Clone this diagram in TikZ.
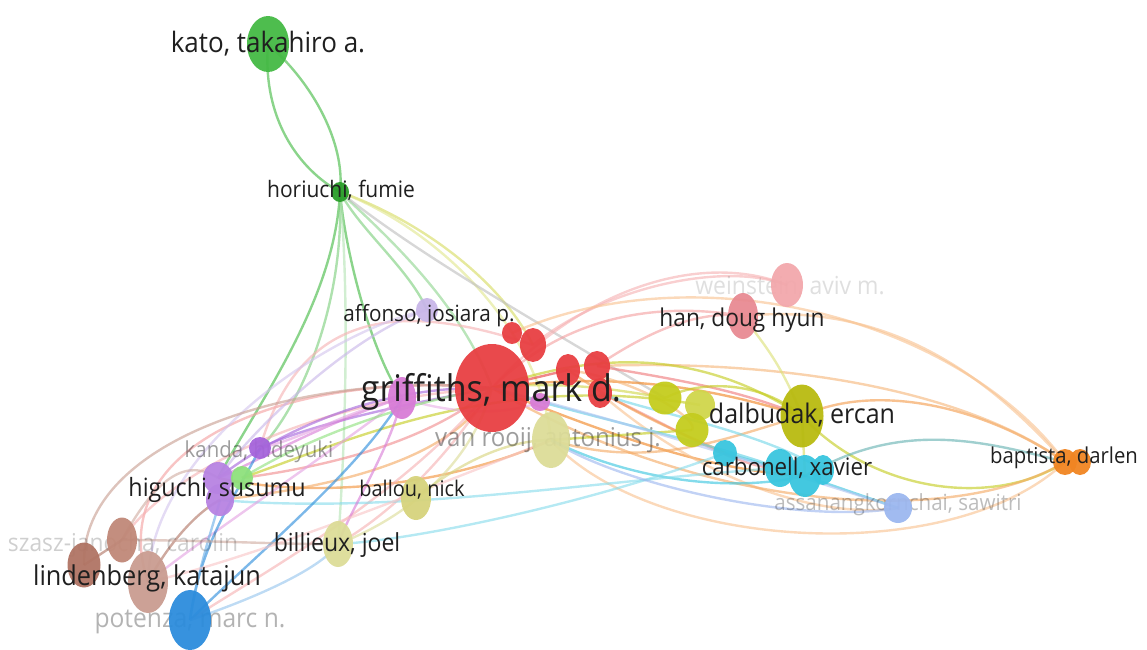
\documentclass[tikz,border=0pt]{standalone}
\usepackage{fontspec}
\setmainfont{Open Sans}
\usetikzlibrary{shapes.geometric}
\definecolor{cred}{HTML}{E83F42}
\definecolor{cgreen}{HTML}{44B944}
\definecolor{cdkgreen}{HTML}{2A9E2A}
\definecolor{cpink}{HTML}{D87CD6}
\definecolor{clav}{HTML}{C8B6E8}
\definecolor{cpurp}{HTML}{A564DB}
\definecolor{clgreen}{HTML}{8EE07C}
\definecolor{colive}{HTML}{C4CC1E}
\definecolor{cdal}{HTML}{B8BA10}
\definecolor{cpale}{HTML}{DCDC98}
\definecolor{cpale2}{HTML}{D6D37C}
\definecolor{ccyan}{HTML}{39C5DE}
\definecolor{cblue}{HTML}{2C8CDC}
\definecolor{clblue}{HTML}{9CB7EF}
\definecolor{corange}{HTML}{F08522}
\definecolor{chan}{HTML}{E88A92}
\definecolor{cwein}{HTML}{F2A8AC}
\definecolor{cbrown}{HTML}{B07464}
\definecolor{cbrown2}{HTML}{C08878}
\definecolor{clind}{HTML}{C99C90}
\pgfdeclarelayer{edges}
\pgfdeclarelayer{faded}
\pgfsetlayers{edges,faded,main}
\tikzset{
    bub/.style={ellipse, draw=none, fill=#1, fill opacity=0.95, inner sep=0pt},
    lab/.style={font=\fontsize{#1}{#1}\selectfont, text=black!88, inner sep=0pt, yscale=1.08},
    faint/.style={text=black!85, text opacity=#1},
    link/.style={draw=#1, draw opacity=0.62, line width=2.4pt},
}

\begin{document}
\begin{tikzpicture}[x=1pt, y=-1pt] % co-authorship map
	\useasboundingbox (0,0) rectangle (1147,649);
	% bubbles
	\node[bub=cgreen, minimum width=42, minimum height=56] (kato) at (268,44) {};
	\node[bub=cdkgreen, minimum width=18, minimum height=20] (horiuchi) at (340,192) {};
	\node[bub=clav, minimum width=22, minimum height=24] (affonso) at (427,310) {};
	\node[bub=cred, minimum width=74, minimum height=88] (griffiths) at (492,388) {};
	\node[bub=cred, minimum width=20, minimum height=22] (red1) at (512,333) {};
	\node[bub=cred, minimum width=26, minimum height=34] (red2) at (533,345) {};
	\node[bub=cred, minimum width=24, minimum height=32] (red3) at (568,370) {};
	\node[bub=cred, minimum width=26, minimum height=30] (red4) at (597,366) {};
	\node[bub=cred, minimum width=24, minimum height=30] (red5) at (600,393) {};
	\node[bub=cpink, minimum width=28, minimum height=42] (pinkg) at (402,398) {};
	\node[bub=cpink, minimum width=20, minimum height=18] (pinks) at (540,402) {};
	\node[bub=cpale, minimum width=38, minimum height=56] (vanrooij) at (551,440) {};
	\node[bub=colive, minimum width=33, minimum height=33] (olive1) at (665,398) {};
	\node[bub=colive!80, minimum width=30, minimum height=30] (olive2) at (700,405) {};
	\node[bub=colive, minimum width=33, minimum height=34] (olive3) at (692,430) {};
	\node[bub=cdal, minimum width=43, minimum height=63] (dalbudak) at (802,416) {};
	\node[bub=ccyan, minimum width=24, minimum height=26] (cyan1) at (725,453) {};
	\node[bub=ccyan, minimum width=30, minimum height=38] (cyan2) at (780,468) {};
	\node[bub=ccyan, minimum width=32, minimum height=42] (carbonell) at (805,476) {};
	\node[bub=ccyan, minimum width=22, minimum height=30] (cyan4) at (823,470) {};
	\node[bub=clblue, minimum width=28, minimum height=30] (assanang) at (898,508) {};
	\node[bub=corange, minimum width=24, minimum height=26] (baptista) at (1065,462) {};
	\node[bub=corange, minimum width=22, minimum height=26] (bapt2) at (1080,462) {};
	\node[bub=chan, minimum width=30, minimum height=46] (han) at (743,316) {};
	\node[bub=cwein, minimum width=32, minimum height=44] (weinstein) at (787,285) {};
	\node[bub=cpurp, minimum width=22, minimum height=22] (kanda) at (260,448) {};
	\node[bub=cpurp!80, minimum width=30, minimum height=32] (higuchi) at (218,478) {};
	\node[bub=cpurp!80, minimum width=28, minimum height=32] (higuchi2) at (220,500) {};
	\node[bub=clgreen, minimum width=22, minimum height=24] (greens) at (242,478) {};
	\node[bub=cpale2, minimum width=30, minimum height=44] (ballou) at (416,498) {};
	\node[bub=cpale, minimum width=30, minimum height=46] (billieux) at (338,544) {};
	\node[bub=cbrown2, minimum width=30, minimum height=45] (szasz) at (122,540) {};
	\node[bub=cbrown, minimum width=33, minimum height=45] (szasz2) at (84,565) {};
	\node[bub=clind, minimum width=40, minimum height=62] (lindenberg) at (148,582) {};
	\node[bub=cblue, minimum width=42, minimum height=60] (potenza) at (190,620) {};

	% links
	\begin{pgfonlayer}{edges}
	\draw[link=cgreen] (kato.center) .. controls (262,120) and (300,170) .. (horiuchi.center);
	\draw[link=cgreen] (kato.center) .. controls (320,90) and (345,150) .. (horiuchi.center);
	\draw[link=cgreen] (horiuchi.center) .. controls (345,250) and (370,350) .. (pinkg.center);
	\draw[link=cgreen!70] (horiuchi.center) .. controls (360,230) and (410,270) .. (affonso.center);
	\draw[link=cgreen!60] (horiuchi.center) .. controls (380,230) and (460,300) .. (griffiths.center);
	\draw[link=colive!70] (horiuchi.center) .. controls (420,220) and (500,280) .. (red2.center);
	\draw[link=cgreen] (horiuchi.center) .. controls (335,300) and (260,400) .. (higuchi.center);
	\draw[link=cgreen!70] (horiuchi.center) .. controls (345,320) and (290,420) .. (kanda.center);
	\draw[link=colive!50] (horiuchi.center) .. controls (440,230) and (540,330) .. (vanrooij.center);
	\draw[link=cgreen!40] (horiuchi.center) .. controls (350,300) and (345,450) .. (billieux.center);
	\draw[link=gray!50] (horiuchi.center) .. controls (400,240) and (480,290) .. (olive1.center);
	% red and orange
	\draw[link=cred!50] (griffiths.center) .. controls (560,320) and (650,300) .. (han.center);
	\draw[link=cred!40] (red2.center) .. controls (600,290) and (720,260) .. (weinstein.center);
	\draw[link=cred!40] (griffiths.center) .. controls (580,290) and (700,250) .. (weinstein.center);
	\draw[link=corange!50] (red1.center) .. controls (700,250) and (960,320) .. (baptista.center);
	\draw[link=cred!50] (red4.center) .. controls (650,330) and (700,310) .. (han.center);
	\draw[link=corange] (griffiths.center) .. controls (620,370) and (720,390) .. (dalbudak.center);
	\draw[link=cred!70] (red4.center) .. controls (680,380) and (740,390) .. (dalbudak.center);
	\draw[link=corange] (griffiths.center) .. controls (600,430) and (700,470) .. (carbonell.center);
	\draw[link=cred!60] (red5.center) .. controls (680,430) and (740,470) .. (cyan2.center);
	\draw[link=corange!80] (red3.center) .. controls (640,420) and (700,440) .. (cyan1.center);
	\draw[link=cred!50] (griffiths.center) .. controls (300,370) and (100,440) .. (lindenberg.center);
	\draw[link=corange!90] (vanrooij.center) .. controls (450,485) and (320,500) .. (higuchi.center);
	\draw[link=corange!70] (griffiths.center) .. controls (450,470) and (300,490) .. (higuchi2.center);
	\draw[link=cred!60] (griffiths.center) .. controls (420,450) and (300,470) .. (greens.center);
	\draw[link=cred!40] (griffiths.center) .. controls (440,470) and (380,520) .. (billieux.center);
	\draw[link=cred!40] (griffiths.center) .. controls (400,500) and (250,580) .. (potenza.center);
	\draw[link=corange!50] (red5.center) .. controls (700,480) and (820,520) .. (assanang.center);
	\draw[link=cred!40] (griffiths.center) .. controls (300,400) and (160,480) .. (szasz.center);
	\draw[link=cred] (griffiths.center) -- (red3.center);
	\draw[link=corange!60] (red3.center) .. controls (640,380) and (700,420) .. (olive3.center);
	\draw[link=corange!70] (vanrooij.center) .. controls (650,470) and (720,440) .. (dalbudak.center);
	\draw[link=cred!40] (red2.center) .. controls (400,300) and (300,310) .. (kanda.center);
	% baptista
	\draw[link=corange!50] (baptista.center) .. controls (950,570) and (650,550) .. (vanrooij.center);
	\draw[link=corange!80] (baptista.center) .. controls (990,410) and (880,380) .. (dalbudak.center);
	\draw[link=colive] (baptista.center) .. controls (990,510) and (870,490) .. (dalbudak.center);
	\draw[link=teal!60] (baptista.center) .. controls (980,440) and (900,420) .. (carbonell.center);
	\draw[link=corange!50] (baptista.center) .. controls (1000,390) and (900,300) .. (han.center);
	\draw[link=corange!70] (baptista.center) .. controls (950,530) and (700,510) .. (griffiths.center);
	\draw[link=corange!60] (baptista.center) .. controls (950,380) and (750,360) .. (red4.center);
	% olive
	\draw[link=colive] (dalbudak.center) .. controls (760,380) and (700,380) .. (olive1.center);
	\draw[link=colive] (olive2.center) .. controls (500,370) and (350,440) .. (greens.center);
	\draw[link=colive] (dalbudak.center) .. controls (700,350) and (600,350) .. (griffiths.center);
	\draw[link=colive!60] (dalbudak.center) .. controls (780,360) and (760,340) .. (han.center);
	\draw[link=colive] (olive3.center) -- (vanrooij.center);
	\draw[link=colive!80] (olive1.center) .. controls (620,390) and (560,380) .. (griffiths.center);
	\draw[link=colive!70] (dalbudak.center) -- (carbonell.center);
	% cyan
	\draw[link=ccyan] (carbonell.center) .. controls (720,495) and (620,475) .. (vanrooij.center);
	\draw[link=ccyan!80] (cyan2.center) .. controls (700,440) and (600,420) .. (griffiths.center);
	\draw[link=ccyan!60] (cyan1.center) .. controls (600,500) and (420,540) .. (billieux.center);
	\draw[link=ccyan] (carbonell.center) -- (assanang.center);
	\draw[link=ccyan!60] (cyan2.center) .. controls (600,480) and (400,515) .. (higuchi2.center);
	\draw[link=ccyan!70] (cyan4.center) .. controls (760,430) and (640,410) .. (red5.center);
	\draw[link=ccyan] (cyan1.center) -- (carbonell.center);
	% purple and pink
	\draw[link=cpurp] (higuchi.center) .. controls (280,430) and (380,385) .. (griffiths.center);
	\draw[link=cpurp] (kanda.center) .. controls (320,420) and (430,400) .. (griffiths.center);
	\draw[link=clav] (affonso.center) .. controls (360,330) and (260,420) .. (higuchi.center);
	\draw[link=cpink] (pinkg.center) .. controls (330,420) and (260,460) .. (higuchi.center);
	\draw[link=cpink] (pinkg.center) .. controls (390,450) and (350,510) .. (billieux.center);
	\draw[link=cpink!70] (pinkg.center) .. controls (320,460) and (200,540) .. (lindenberg.center);
	\draw[link=cpink!60] (pinkg.center) .. controls (470,420) and (520,410) .. (pinks.center);
	\draw[link=clav!80] (affonso.center) .. controls (330,330) and (150,450) .. (lindenberg.center);
	\draw[link=cpink!70] (kanda.center) .. controls (300,440) and (350,410) .. (pinkg.center);
	% blue
	\draw[link=cblue] (potenza.center) .. controls (250,560) and (360,470) .. (pinkg.center);
	\draw[link=cblue] (potenza.center) .. controls (200,540) and (240,490) .. (kanda.center);
	\draw[link=cblue!70] (potenza.center) .. controls (200,560) and (215,520) .. (higuchi2.center);
	\draw[link=cblue!50] (potenza.center) .. controls (250,600) and (320,570) .. (billieux.center);
	% brown
	\draw[link=cbrown!70] (szasz2.center) .. controls (80,440) and (300,370) .. (griffiths.center);
	\draw[link=cbrown] (lindenberg.center) .. controls (170,540) and (200,510) .. (higuchi2.center);
	\draw[link=cbrown!60] (szasz.center) .. controls (200,540) and (300,545) .. (billieux.center);
	\draw[link=cred!30] (lindenberg.center) .. controls (250,560) and (450,480) .. (vanrooij.center);
	\draw[link=cbrown] (szasz2.center) -- (szasz.center);
	\draw[link=cbrown!60] (szasz.center) .. controls (160,470) and (190,460) .. (higuchi.center);
	% light green and light blue
	\draw[link=clgreen] (greens.center) .. controls (320,430) and (420,400) .. (griffiths.center);
	\draw[link=clblue] (assanang.center) .. controls (800,525) and (620,485) .. (vanrooij.center);
	\draw[link=clblue!80] (assanang.center) .. controls (780,470) and (620,420) .. (griffiths.center);
	\draw[link=cpale2] (ballou.center) .. controls (450,470) and (500,440) .. (vanrooij.center);
	\draw[link=cpale] (billieux.center) .. controls (400,520) and (470,470) .. (griffiths.center);
	\end{pgfonlayer}

	% faded labels
	\begin{pgfonlayer}{faded}
	\node[lab=24, faint=0.45] (vanrooij-l) at (548,440) {van rooij, antonius j.};
	\node[lab=23, faint=0.15] (weinstein-l) at (790,287) {weinstein, aviv m.};
	\node[lab=20.6, faint=0.3] (assanang-l) at (898,505) {assanangkornchai, sawitri};
	\node[lab=20.4, faint=0.45] (kanda-l) at (259,452) {kanda, hideyuki};
	\node[lab=22.8, faint=0.22] (szasz-l) at (123,545) {szasz-janocha, carolin};
	\node[lab=24.6, faint=0.35] (potenza-l) at (190,622) {potenza, marc n.};
	\end{pgfonlayer}

	% labels
	\node[lab=26] (kato-l) at (268,44) {kato, takahiro a.};
	\node[lab=21] (horiuchi-l) at (341,190) {horiuchi, fumie};
	\node[lab=20.7] (affonso-l) at (429,316) {affonso, josiara p.};
	\node[lab=34] (griffiths-l) at (491,392) {griffiths, mark d.};
	\node[lab=22.7] (han-l) at (742,320) {han, doug hyun};
	\node[lab=25] (dalbudak-l) at (802,415) {dalbudak, ercan};
	\node[lab=22.3] (carbonell-l) at (787,468) {carbonell, xavier};
	\node[lab=20.3] (baptista-l) at (1064,458) {baptista, darlen};
	\node[lab=23.3] (higuchi-l) at (217,490) {higuchi, susumu};
	\node[lab=20] (ballou-l) at (412,490) {ballou, nick};
	\node[lab=23] (billieux-l) at (337,545) {billieux, joel};
	\node[lab=25.3] (lindenberg-l) at (147,578) {lindenberg, katajun};
\end{tikzpicture}
\end{document}
